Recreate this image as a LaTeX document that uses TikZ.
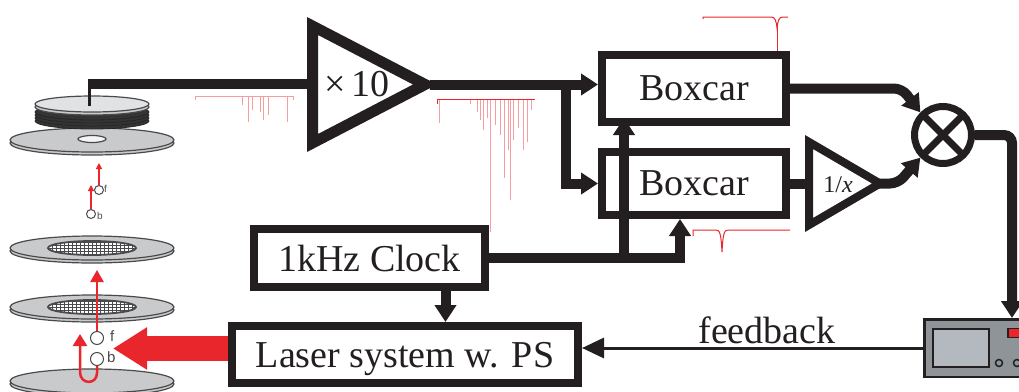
\documentclass[tikz,border=0pt]{standalone}
\usepackage{fontspec}
\setmainfont{Liberation Serif}
\newfontfamily\tagfont{Liberation Sans}
\usetikzlibrary{arrows.meta,calc}

\definecolor{ink}{HTML}{231F20}
\definecolor{sigred}{HTML}{E8262B}
\definecolor{diskfill}{HTML}{C9CACC}
\definecolor{diskline}{HTML}{4A4A4C}
\definecolor{scopebody}{HTML}{8F9499}
\definecolor{scopescreen}{HTML}{B3B9BF}

\begin{document}
\begin{tikzpicture}[x=1pt,y=-1pt,
  box/.style={draw=ink, line width=8pt, inner sep=0pt, text=ink, text depth=0pt,
    font=\fontsize{38}{40}\selectfont},
  wire/.style={draw=ink, line width=10pt},
  flow/.style={wire, -{Triangle[width=21pt,length=17pt]}},
  sig/.style={sigred, line width=1pt},
  faintsig/.style={sigred!45, line width=0.7pt},
  plateface/.style={fill=diskfill, draw=diskline, line width=1.2pt},
  beam/.style={sigred, line width=2.5pt, -{Triangle[width=13pt,length=12pt]}},
  smallbeam/.style={sigred, line width=1.2pt, -{Triangle[width=6pt,length=6pt]}},
  packet/.style={circle, draw=diskline, fill=white, line width=1pt, inner sep=0pt},
  tag/.style={font=\tagfont\fontsize{15}{15}\selectfont, text=diskline, inner sep=0pt},
  smalltag/.style={font=\tagfont\fontsize{10}{10}\selectfont, text=diskline, inner sep=0pt},
  plate/.pic={
    \filldraw[plateface] (0,3) ellipse [x radius=82pt, y radius=12pt];
    \filldraw[plateface] (0,0) ellipse [x radius=82pt, y radius=12pt];
  },
  meshplate/.pic={
    \filldraw[plateface] (0,3) ellipse [x radius=82pt, y radius=12pt];
    \filldraw[plateface] (0,0) ellipse [x radius=82pt, y radius=12pt];
    \begin{scope}
      \clip (0,0) ellipse [x radius=44pt, y radius=7pt];
      \fill[white] (-46,-8) rectangle (46,8);
      \draw[diskline, line width=1pt] (-46,-8) grid [xstep=4pt, ystep=3pt] (46,8);
    \end{scope}
    \draw[diskline, line width=1.8pt] (0,0) ellipse [x radius=44pt, y radius=7pt];
  }
]
\useasboundingbox (0,0) rectangle (1019,391);

% ---------- electrode stack ----------
\pic at (92,140) {plate};
\filldraw[fill=white!80!diskfill, draw=diskline, line width=1.2pt]
  (92,139) ellipse [x radius=14pt, y radius=3.5pt];
\foreach \yy in {121,118,115,112}
  \filldraw[fill=diskline!70!black, draw=black!85, line width=0.8pt]
    (92,\yy) ellipse [x radius=57pt, y radius=8pt];
\filldraw[plateface] (92,107) ellipse [x radius=57pt, y radius=8pt];
\filldraw[fill=diskfill!55!white, draw=diskline, line width=1.2pt]
  (92,104) ellipse [x radius=57pt, y radius=8pt];

\pic at (92,248) {meshplate};
\pic at (92,307) {meshplate};
\pic at (92,381) {plate};

% ion packets (upper pair)
\node[packet, minimum size=9pt] (f1) at (99,190) {};
\node[packet, minimum size=9pt] (b1p) at (91,214) {};
\node[smalltag, anchor=west] at (104,189) {f};
\node[smalltag, anchor=west] at (97,216) {b};
\coordinate (f1top) at (99,163);
\coordinate (b1top) at (91,185);
\draw[smallbeam] (f1.north) -- (f1top);
\draw[smallbeam] (b1p.north) -- (b1top);

% ion packets (lower pair)
\coordinate (beamtop) at (97,270);
\coordinate (looptop) at (80,334);
\node[packet, minimum size=13pt] (f2) at (97,338) {};
\node[packet, minimum size=13pt] (b2p) at (97,359) {};
\node[tag, anchor=west] at (110,336) {f};
\node[tag, anchor=west] at (107,357) {b};
\draw[beam] (f2.north) -- (beamtop);
\draw[sigred, line width=2.5pt, -{Triangle[width=14pt,length=12pt]}]
  (b2p.south) -- (97,373) .. controls (97,385) and (80,385) .. (80,372) -- (looptop);

% ---------- signal traces ----------
\draw[faintsig] (195,100) -- (195,96) -- (293,96) -- (293,100);
\foreach \x/\d in {242/105, 248/122, 252/110, 260/112, 263/120, 268/115, 287/122}
  \draw[faintsig] (\x,96) -- (\x,\d);
\foreach \x/\d in {439/123, 470/104, 477/112, 480/120, 483/130, 487/118, 490/232,
                   495/125, 500/135, 504/178, 508/150, 510/200, 513/140, 518/128,
                   523/150, 527/142, 531/110}
  \draw[faintsig] (\x,99) -- (\x,\d);
\draw[sig] (437,104) -- (437,99) -- (535,99);
\draw[sig] (703,19) -- (703,17) -- (771,17) .. controls (775,17) and (776,20) .. (777,28)
  .. controls (778,20) and (779,17) .. (783,17) -- (788,17);
\draw[sig, line width=0.8pt] (777,26) -- (777,51);
\draw[sig] (693,236) -- (693,230) -- (716,230) .. controls (720,230) and (721,234) .. (722,252)
  .. controls (723,234) and (724,230) .. (728,230) -- (790,230);

% ---------- blocks ----------
\node[box, minimum width=184pt, minimum height=67pt] (bc1) at (694,88.5) {Boxcar};
\node[box, minimum width=184pt, minimum height=63pt] (bc2) at (694,183.5) {Boxcar};
\node[box, minimum width=231pt, minimum height=58pt] (clk) at (369.5,258) {1kHz Clock};
\node[box, minimum width=346pt, minimum height=57pt] (laser) at (405,354.5) {Laser system w. PS};

% x10 amplifier
\fill[ink, even odd rule] (307,17) -- (437,84.5) -- (307,152) -- cycle
  (318,35) -- (413,84.5) -- (318,134) -- cycle;
\node[text=ink, font=\fontsize{38}{40}\selectfont] (amp) at (357,84) {×\,10};
\coordinate (ampin) at (307,84);
\coordinate (ampout) at (430,84.5);

% 1/x amplifier
\fill[ink, even odd rule] (805,135) -- (888,183.5) -- (805,232) -- cycle
  (813,149) -- (872,183.5) -- (813,218) -- cycle;
\node[text=ink, font=\fontsize{24}{26}\selectfont] (inv) at (838,185) {1/\textit{x}};
\coordinate (invin) at (805,183.5);
\coordinate (invout) at (878,183.5);

% multiplier
\node[circle, draw=ink, line width=7pt, minimum size=57pt, inner sep=0pt] (mul) at (943,135) {};
\draw[ink, line width=7pt] ($(mul.center)+(-20,-20)$) -- ($(mul.center)+(20,20)$);
\draw[ink, line width=7pt] ($(mul.center)+(-20,20)$) -- ($(mul.center)+(20,-20)$);

% oscilloscope
\node[draw=ink, fill=scopebody, line width=2.5pt, minimum width=114.5pt, minimum height=57.5pt,
  inner sep=0pt] (scope) at (981.5,348) {};
\node[draw=ink, fill=scopescreen, line width=2.5pt, minimum width=56pt, minimum height=38pt,
  inner sep=0pt] (screen) at (961,348) {};
\node[draw=ink, fill=sigred, line width=1.5pt, minimum width=22pt, minimum height=9pt,
  inner sep=0pt] (btn) at (1019,333) {};
\node[circle, draw=ink, fill=scopebody, line width=1.5pt, minimum size=7pt, inner sep=0pt] (knobA) at (999,363) {};
\node[circle, draw=ink, fill=scopebody, line width=1.5pt, minimum size=7pt, inner sep=0pt] (knobB) at (1017,363) {};

% ---------- connections ----------
\coordinate (pickup) at (89,106);
\draw[ink, line width=3pt] (pickup) -- (pickup |- ampin);
\draw[wire] ([xshift=-1.5pt]pickup |- ampin) -- (ampin);
\draw[flow] (ampout) -- (ampout -| bc1.west);
\coordinate (split) at (566,84.5);
\draw[flow] ([yshift=5pt]split) |- (bc2.west);

\draw[flow] (clk.east) -| ([xshift=-14pt]bc2.south);
\coordinate (tap) at ([xshift=-70pt]bc1.south |- clk.east);
\draw[flow] ([yshift=-5pt]tap) -- ([xshift=-70pt,yshift=8pt]bc1.south);
\draw[flow] ([xshift=76pt]clk.south) -- ([xshift=76pt]clk.south |- laser.north);

\draw[flow, rounded corners=8pt] (bc1.east) -- ++(112,0) -- (mul.135);
\draw[wire] (bc2.east) -- (invin);
\draw[flow, rounded corners=8pt] (invout) -- ++(20,0) -- (mul.225);
\draw[flow, rounded corners=8pt] (mul.east) -| ([xshift=30.5pt]scope.north);

\draw[ink, line width=3pt, -{Triangle[width=20pt,length=22pt]}]
  (scope.west) -- (scope.west -| laser.east);
\node[text=ink, font=\fontsize{38}{40}\selectfont, anchor=base] (fbl) at (767,343) {feedback};

% excitation laser beam
\draw[sigred, line width=25pt, -{Triangle[width=40pt,length=34pt]}]
  ([yshift=6pt]laser.west) -- ++(-115,0);

\end{tikzpicture}
\end{document}
